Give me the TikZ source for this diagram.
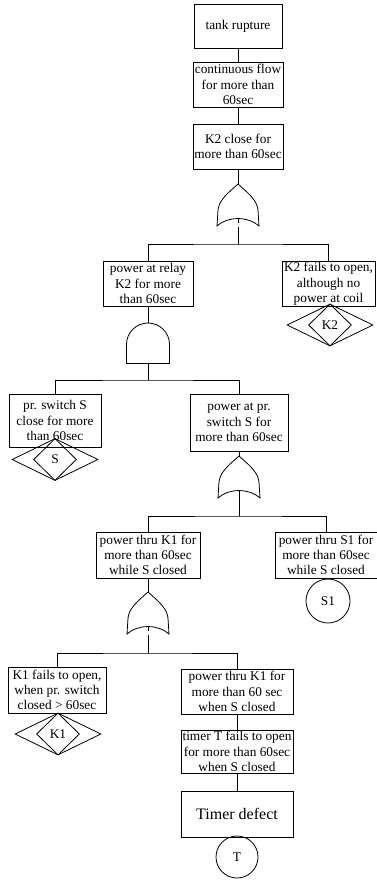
\documentclass[tikz,border=0pt]{standalone}
\usepackage{fontspec}
\setmainfont{Liberation Serif}
\usetikzlibrary{shapes.geometric}
\begin{document}
\begin{tikzpicture}[x=0.75pt,y=-0.75pt,line width=0.6pt,
    every node/.style={font=\fontsize{10}{11.5}\selectfont},
    evt/.style 2 args={draw,rectangle,align=center,inner sep=-1.5pt,
      minimum width=#1*0.75pt,minimum height=#2*0.75pt},
    basic/.style={draw,circle,inner sep=0pt,minimum size=#1},
    outerdia/.style={draw,diamond,inner sep=0pt,minimum width=64.5pt,minimum height=31.5pt},
    innerdia/.style={draw,diamond,inner sep=0pt,minimum width=32.25pt,minimum height=31.5pt},
    orgate/.pic={
      \draw (0,0) .. controls (-10,9) and (-19,16) .. (-20,26) -- (-21,42)
        .. controls (-10,32) and (10,32) .. (21,42) -- (20,26)
        .. controls (19,16) and (10,9) .. (0,0) -- cycle;
      \coordinate (-top) at (0,0);
      \coordinate (-in) at (0,34.5);
      \coordinate (-out) at (0,46);
    },
    andgate/.pic={
      \draw (-21.5,21.5) arc[start angle=180,end angle=0,radius=16.125pt]
        -- (21.5,40.5) -- (-21.5,40.5) -- cycle;
      \coordinate (-top) at (0,0);
      \coordinate (-out) at (0,40.5);
    }]
  \useasboundingbox (0,0) rectangle (376,881);
  % top event and its chain
  \node[evt={88}{44}] (top) at (238,26) {tank rupture};
  \node[evt={90}{45}] (flow) at (238,84.5) {continuous flow\\for more than\\60sec};
  \node[evt={90}{45}] (k2cl) at (238,146.5) {K2 close for\\more than 60sec};
  \pic (or1) at (238,184) {orgate};
  \coordinate (j1) at (238,244);
  \node[evt={90}{45}] (relay) at (148,283.5) {power at relay\\K2 for more\\than 60sec};
  \node[evt={93}{45}] (k2fail) at (328.5,284) {K2 fails to open,\\although no\\power at coil};
  \node[outerdia] (dK2) at (330,325) {};
  \node[innerdia] (dK2i) at (dK2) {K2};
  % relay branch
  \pic (and1) at (148,323) {andgate};
  \coordinate (j2) at (148,380);
  \node[evt={92}{53}] (sw) at (55,420.5) {pr. switch S\\close for more\\than 60sec};
  \node[outerdia] (dS) at (55,459.5) {};
  \node[innerdia] (dSi) at (dS) {S};
  \node[evt={98}{57}] (ps) at (239,422.5) {power at pr.\\switch S for\\more than 60sec};
  \pic (or2) at (239,456) {orgate};
  \coordinate (j3) at (239,516);
  \node[evt={104}{46}] (k1) at (148,555) {power thru K1 for\\more than 60sec\\while S closed};
  \node[evt={102}{46}] (s1) at (326,555) {power thru S1 for\\more than 60sec\\while S closed};
  \node[basic=33pt] (cS1) at (328,601) {S1};
  % K1 branch
  \pic (or3) at (148,592) {orgate};
  \coordinate (j4) at (148,653);
  \node[evt={98}{46}] (k1fail) at (57,690) {K1 fails to open,\\when pr. switch\\closed > 60sec};
  \node[outerdia] (dK1) at (58,734) {};
  \node[innerdia] (dK1i) at (dK1) {K1};
  \node[evt={112}{45}] (k1b) at (237,691.5) {power thru K1 for\\more than 60 sec\\when S closed};
  \node[evt={112}{43}] (timer) at (237,751.5) {timer T fails to open\\for more than 60sec\\when S closed};
  \node[evt={112}{46},font=\fontsize{12}{14}\selectfont] (tdef) at (237,814) {Timer defect};
  \node[basic=31.5pt] (cT) at (237,857) {T};
  % connectors
  \draw (top) -- (flow);
  \draw (flow) -- (k2cl);
  \draw (k2cl) -- (or1-top);
  \draw[dashed] (or1-in) -- (or1-out);
  \draw (or1-out) -- (j1);
  \draw (relay) |- (j1) -| (k2fail);
  \draw (relay) -- (and1-top);
  \draw (and1-out) -- (j2);
  \draw (sw) |- (j2) -| (ps);
  \draw (ps) -- (or2-top);
  \draw (or2-in) -- (j3);
  \draw (k1) |- (j3) -| (s1);
  \draw (k1) -- (or3-top);
  \draw[dashed] (or3-in) -- (or3-out);
  \draw (or3-out) -- (j4);
  \draw (k1fail) |- (j4) -| (k1b);
  \draw (k1b) -- (timer);
  \draw (timer) -- (tdef);
\end{tikzpicture}
\end{document}
